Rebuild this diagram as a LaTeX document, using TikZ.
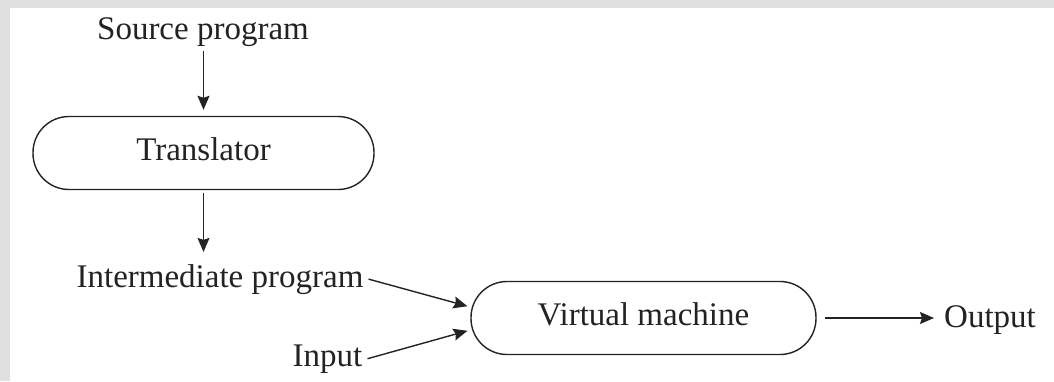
\documentclass[tikz,border=0pt]{standalone}
\usepackage{fontspec}
\setmainfont{Liberation Serif}
\usetikzlibrary{arrows.meta,calc}
\definecolor{framegray}{RGB}{224,224,224}
\definecolor{ink}{RGB}{35,35,35}
\tikzset{
  lbl/.style={inner xsep=5pt, inner ysep=3pt, anchor=base, text=ink, font=\fontsize{33}{39}\selectfont},
  pill/.style={draw=ink, line width=1.4pt, rounded corners=36pt, minimum height=73pt, text=ink, font=\fontsize{33}{39}\selectfont, text height=22pt, text depth=7pt},
  arr/.style={draw=ink, line width=1.4pt, -{Stealth[length=14pt,width=12pt,inset=2pt]}}
}
\begin{document}
\begin{tikzpicture}[x=1pt,y=-1pt]
\useasboundingbox (0,0) rectangle (1054,381);
\fill[framegray] (0,0) rectangle (1054,8);
\fill[framegray] (0,0) rectangle (10,381);
\fill[white] (10,8) rectangle (1054,381);

\node[lbl] (src) at (203,39) {Source program};
\node[pill, minimum width=341pt] (tr) at (203.5,153) {Translator};
\node[lbl] (im) at (220,287) {Intermediate program};
\node[lbl] (in) at (327.5,366) {Input};
\node[pill, minimum width=345pt] (vm) at (643.5,318) {Virtual machine};
\node[lbl] (out) at (990,327) {Output};

\draw[arr, shorten <=2pt, shorten >=6pt] (src.south -| tr.north) -- (tr.north);
\draw[arr, shorten <=3pt] (tr.south) -- ([yshift=9pt]tr.south |- im.north);
\draw[arr, shorten >=3pt] (im.east) -- ([yshift=11pt]vm.west);
\draw[arr, shorten >=3pt] (in.east) -- ([yshift=-12pt]vm.west);
\draw[arr, shorten <=8pt, shorten >=5pt] (vm.east) -- (out.west |- vm.east);
\end{tikzpicture}
\end{document}
